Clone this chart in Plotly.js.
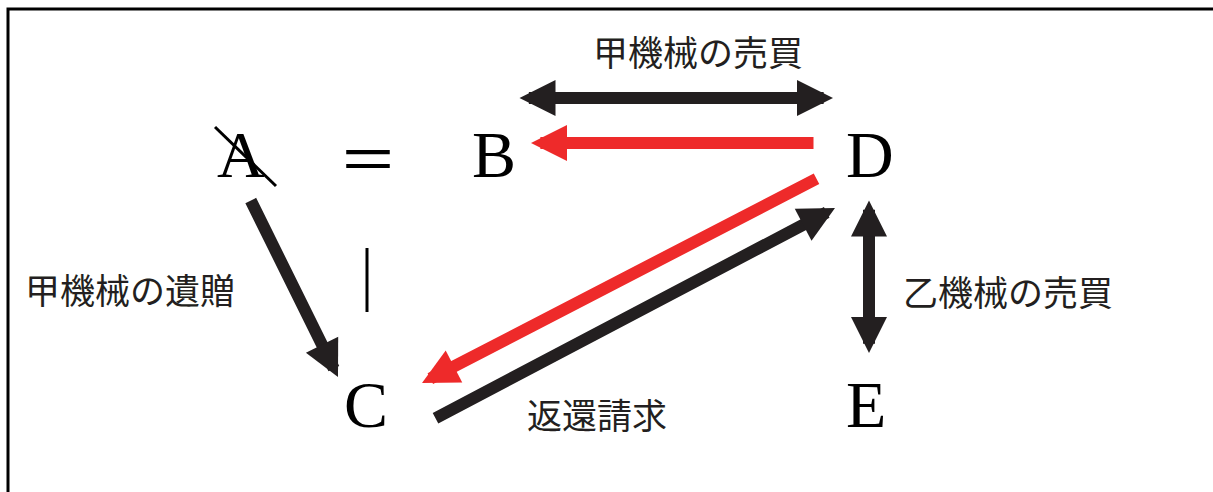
<!DOCTYPE html>
<html>
<head>
<meta charset="utf-8">
<script src="https://cdn.plot.ly/plotly-3.0.1.min.js"></script>
<style>html,body{margin:0;padding:0;background:#fff;}#chart{width:1213px;height:492px;}</style>
</head>
<body>
<div id="chart"></div>
<script>
// Nodes of the diagram
const nodeLabels = ['A', 'B', 'C', 'D', 'E'];
const nodeX = [241, 494, 366, 870, 866];
const nodeY = [154, 154, 404, 154, 404];

// Equals sign between A and B
const eqLabel = ['＝'];
const eqX = [368];
const eqY = [155];

// Relation labels
const edgeLabels = ['甲機械の売買', '甲機械の遺贈', '乙機械の売買', '返還請求'];
const edgeLabelX = [698, 130, 1008, 597];
const edgeLabelY = [50, 288, 290, 413];

// Arrows (tail -> head)
const arrowTailX = [518, 815, 250, 818, 434, 869];
const arrowTailY = [98, 143, 199, 178, 419, 199];
const arrowHeadX = [833, 531, 338, 422, 835, 869];
const arrowHeadY = [98, 143, 377, 383, 208, 353];
const arrowColor = ['#231f20', '#ee2a2a', '#231f20', '#ee2a2a', '#231f20', '#231f20'];
const arrowBoth = [true, false, false, false, false, true];

// Thin lines: slash through A, vertical bar under "="
const lineX0 = [215, 367];
const lineY0 = [127, 248];
const lineX1 = [276, 367];
const lineY1 = [186, 312];

const W = 1213, H = 492;
const annotations = [];
const serif = 'Liberation Serif, Times New Roman, serif';
const cjk = 'Noto Sans CJK JP, sans-serif';

nodeLabels.forEach((t, i) => {
  annotations.push({x: nodeX[i], y: nodeY[i], xref: 'x', yref: 'y', text: t, showarrow: false,
    xanchor: 'center', yanchor: 'middle', font: {family: serif, size: 66, color: '#000'}});
});
eqLabel.forEach((t, i) => {
  annotations.push({x: eqX[i], y: eqY[i], xref: 'x', yref: 'y', text: t, showarrow: false,
    xanchor: 'center', yanchor: 'middle', font: {family: cjk, size: 60, color: '#000'}});
});
edgeLabels.forEach((t, i) => {
  annotations.push({x: edgeLabelX[i], y: edgeLabelY[i], xref: 'x', yref: 'y', text: t, showarrow: false,
    xanchor: 'center', yanchor: 'middle', font: {family: cjk, size: 35, color: '#231f20'}});
});
arrowTailX.forEach((_, i) => {
  annotations.push({
    x: arrowHeadX[i], y: arrowHeadY[i], xref: 'x', yref: 'y',
    ax: arrowTailX[i], ay: arrowTailY[i], axref: 'x', ayref: 'y',
    text: '', showarrow: true,
    arrowhead: 2, arrowsize: 0.6, arrowwidth: 12, arrowcolor: arrowColor[i],
    arrowside: arrowBoth[i] ? 'end+start' : 'end',
    startarrowhead: 2, startarrowsize: 0.6, standoff: 0, startstandoff: 0
  });
});

const shapes = [];
lineX0.forEach((_, i) => {
  shapes.push({type: 'line', xref: 'x', yref: 'y', x0: lineX0[i], y0: lineY0[i], x1: lineX1[i], y1: lineY1[i],
    line: {color: '#000', width: 3}});
});
// frame (clipped at right and bottom edges)
shapes.push({type: 'rect', xref: 'x', yref: 'y', x0: 8, y0: 9, x1: W + 20, y1: H + 20,
  line: {color: '#000', width: 3}});

const layout = {
  width: W, height: H,
  margin: {l: 0, r: 0, t: 0, b: 0},
  paper_bgcolor: '#fff', plot_bgcolor: '#fff',
  xaxis: {range: [0, W], visible: false, fixedrange: true},
  yaxis: {range: [H, 0], visible: false, fixedrange: true},
  showlegend: false,
  annotations: annotations,
  shapes: shapes
};
Plotly.newPlot('chart', [], layout, {displayModeBar: false, staticPlot: true});
</script>
</body>
</html>
